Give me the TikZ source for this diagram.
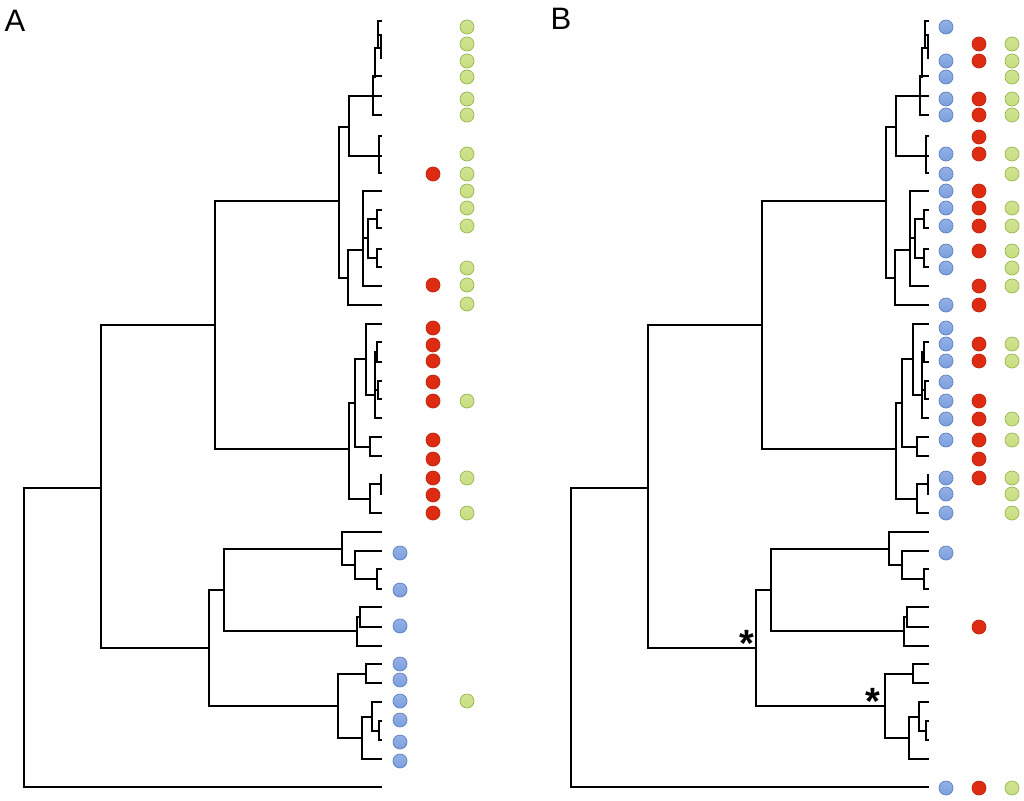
\documentclass[tikz,border=0pt]{standalone}
\usepackage{fontspec}
\setmainfont{Liberation Sans}
\usetikzlibrary{positioning}
\definecolor{dotblue}{RGB}{122,158,222}
\definecolor{dotblueedge}{RGB}{92,126,194}
\definecolor{dotred}{RGB}{222,44,18}
\definecolor{dotgreen}{RGB}{200,222,128}
\definecolor{dotgreenedge}{RGB}{150,182,78}
% vertical bars (x/top/bottom) and horizontal bars (y/left/right), in pixels
\newcommand{\treevbars}{24/488/787, 101/325/648, 215/201/449,
  339/127/278, 349/96/156, 373/76/115, 375/48/77, 378/21/48, 381/35/58,
  379/136/173, 348/250/305, 363/191/286, 368/219/258, 377/210/228, 377/249/267,
  349/403/499, 355/359/447, 366/324/395, 375/352/418, 377/342/362, 378/381/399,
  370/437/456, 370/484/513, 381/475/494,
  209/590/706, 224/549/631, 342/532/565, 355/551/579, 377/569/589,
  357/617/646, 360/607/627, 338/674/738, 366/664/683, 362/717/759,
  372/702/731, 379/721/740}
\newcommand{\treehbars}{488/24/101, 787/24/381, 325/101/215, 648/101/209,
  201/215/339, 449/215/349, 127/339/349, 278/339/348,
  96/349/381, 156/349/381, 76/373/381, 115/373/381, 48/375/381, 21/378/381,
  35/378/381, 58/381/381, 136/379/381, 173/379/381,
  250/348/363, 305/348/381, 191/363/381, 286/363/381, 238/363/368,
  219/368/377, 258/368/377, 210/377/381, 228/377/381, 249/377/381, 267/377/381,
  403/349/355, 499/349/370, 359/355/366, 447/355/370, 324/366/381, 395/366/375,
  352/375/377, 390/375/378, 418/375/381, 342/377/381, 362/377/381,
  381/378/381, 399/378/381, 437/370/381, 456/370/381, 484/370/381, 513/370/381,
  475/381/381, 494/381/381,
  590/209/224, 706/209/338, 549/224/342, 631/224/357, 532/342/381, 565/342/355,
  551/355/381, 579/355/377, 569/377/381, 589/377/381, 617/357/360, 646/357/381,
  607/360/381, 627/360/381, 674/338/366, 738/338/362, 664/366/381, 683/366/381,
  717/362/372, 759/362/381, 702/372/381, 731/372/379, 721/379/381, 740/379/381}
\tikzset{
  branch/.style={line width=2pt,line cap=rect},
  dot/.style={circle,inner sep=0pt,minimum size=14pt,line width=0.7pt},
  bluedot/.style={dot,draw=dotblueedge,top color=dotblue!80!white,bottom color=dotblue},
  reddot/.style={dot,fill=dotred,draw=dotred!85!black},
  greendot/.style={dot,draw=dotgreenedge,top color=dotgreen!85!white,bottom color=dotgreen},
  paneltag/.style={font=\fontsize{31}{31}\selectfont},
  star/.style={font=\bfseries\fontsize{38}{38}\selectfont,inner sep=0pt}
}
\newcommand{\drawtree}{%
  \foreach \x/\ya/\yb in \treevbars {\draw[branch] (\x,\ya) -- (\x,\yb);}
  \foreach \y/\xa/\xb in \treehbars {\draw[branch] (\xa,\y) -- (\xb,\y);}
}

\begin{document}
\begin{tikzpicture}[x=1pt,y=-1pt]
  \useasboundingbox (0,0) rectangle (1024,800);
  % panel A
  \node[paneltag] (tagA) at (15,21) {A};
  \drawtree
  \foreach \y [count=\i] in {553,590,626,664,680,701,720,742,761}
    \node[bluedot] (blueA\i) at (400,\y) {};
  \foreach \y [count=\i] in {174,285,328,345,361,382,401,440,459,478,495,513}
    \node[reddot] (redA\i) at (433,\y) {};
  \foreach \y [count=\i] in {27,44,61,77,99,115,154,174,191,208,226,268,285,304,401,478,513,701}
    \node[greendot] (greenA\i) at (467,\y) {};
  % panel B
  \node[paneltag] (tagB) at (561,19) {B};
  \begin{scope}[xshift=547pt]
    \drawtree
  \end{scope}
  \node[star] (starB1) at (747,643) {*};
  \node[star] (starB2) at (873,701) {*};
  \foreach \y [count=\i] in {27,61,77,99,115,154,174,191,208,226,251,268,305,328,344,361,382,401,419,440,478,494,513,553,788}
    \node[bluedot] (blueB\i) at (946,\y) {};
  \foreach \y [count=\i] in {44,61,99,115,137,154,191,208,226,251,286,305,344,361,401,419,440,459,478,627,788}
    \node[reddot] (redB\i) at (979,\y) {};
  \foreach \y [count=\i] in {44,61,77,99,115,154,174,208,226,251,268,286,344,361,419,440,478,494,513,788}
    \node[greendot] (greenB\i) at (1012,\y) {};
\end{tikzpicture}
\end{document}
